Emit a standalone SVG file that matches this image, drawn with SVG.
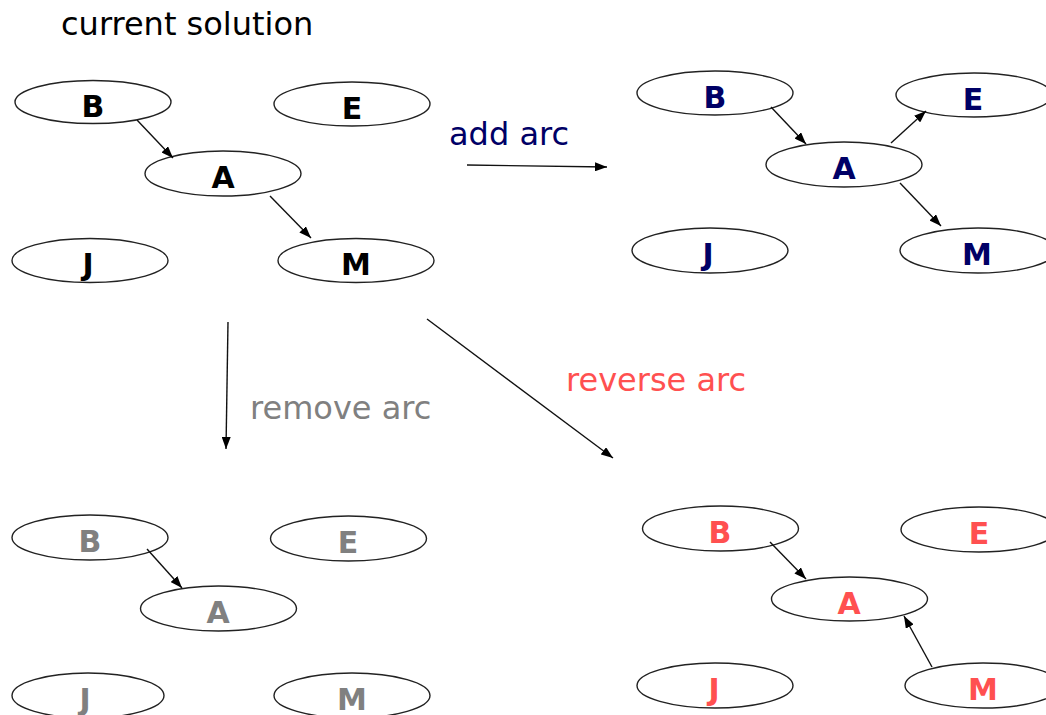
<svg xmlns="http://www.w3.org/2000/svg" width="1046" height="715" viewBox="0 0 1046 715">
<style>
.n ellipse{fill:#fff;stroke:#222;stroke-width:1.4}
.n text{font-family:"DejaVu Sans",Verdana,sans-serif;font-weight:bold;font-size:30px;text-anchor:middle}
.k text{fill:#000}
.b text{fill:#000066}
.g text{fill:#808080}
.r text{fill:#ff5050}
.lbl{font-family:"DejaVu Sans",Verdana,sans-serif;font-size:32px}
.c line{stroke:#111;stroke-width:1.4;marker-end:url(#ah)}
</style>
<defs>
<marker id="ah" markerUnits="userSpaceOnUse" markerWidth="12" markerHeight="9" refX="12" refY="4.5" orient="auto">
<path d="M0,0 L12,4.5 L0,9 z" fill="#000"/>
</marker>
</defs>
<rect width="1046" height="715" fill="#fff"/>
<text class="lbl" x="61" y="35" fill="#000">current solution</text>
<text class="lbl" x="449" y="145" fill="#000066">add arc</text>
<text class="lbl" x="250" y="419" fill="#808080">remove arc</text>
<text class="lbl" x="566" y="391" fill="#ff5050">reverse arc</text>

<!-- current solution -->
<g class="n k" id="c-B"><ellipse cx="93" cy="102" rx="78" ry="21.5"/><text x="93" y="117">B</text></g>
<g class="n k" id="c-E"><ellipse cx="352" cy="104" rx="78" ry="22"/><text x="352" y="119">E</text></g>
<g class="n k" id="c-A"><ellipse cx="223" cy="173.5" rx="78" ry="22.5"/><text x="223" y="188">A</text></g>
<g class="n k" id="c-J"><ellipse cx="90" cy="260.5" rx="78" ry="22"/><text x="88" y="275">J</text></g>
<g class="n k" id="c-M"><ellipse cx="356" cy="260.5" rx="78" ry="22"/><text x="356" y="275">M</text></g>

<!-- add arc -->
<g class="n b" id="a-B"><ellipse cx="715" cy="93" rx="78" ry="22"/><text x="715" y="108">B</text></g>
<g class="n b" id="a-E"><ellipse cx="974" cy="95" rx="78" ry="22"/><text x="973" y="110">E</text></g>
<g class="n b" id="a-A"><ellipse cx="844" cy="164.5" rx="78" ry="22.5"/><text x="844" y="179">A</text></g>
<g class="n b" id="a-J"><ellipse cx="710" cy="250.5" rx="78" ry="22.5"/><text x="708" y="265">J</text></g>
<g class="n b" id="a-M"><ellipse cx="978" cy="250.5" rx="78" ry="22.5"/><text x="977" y="265">M</text></g>

<!-- remove arc -->
<g class="n g" id="m-B"><ellipse cx="90" cy="537.5" rx="78" ry="22.5"/><text x="90" y="552">B</text></g>
<g class="n g" id="m-E"><ellipse cx="348.5" cy="538.5" rx="78" ry="22.5"/><text x="348" y="553">E</text></g>
<g class="n g" id="m-A"><ellipse cx="218.5" cy="608.5" rx="78" ry="22.5"/><text x="218" y="623">A</text></g>
<g class="n g" id="m-J"><ellipse cx="88" cy="695.5" rx="76" ry="22.5"/><text x="85" y="710">J</text></g>
<g class="n g" id="m-M"><ellipse cx="352" cy="695.5" rx="78" ry="22.5"/><text x="352" y="710">M</text></g>

<!-- reverse arc -->
<g class="n r" id="r-B"><ellipse cx="720.5" cy="528.5" rx="78" ry="22.5"/><text x="720" y="543">B</text></g>
<g class="n r" id="r-E"><ellipse cx="979" cy="529.5" rx="78" ry="22.5"/><text x="979" y="544">E</text></g>
<g class="n r" id="r-A"><ellipse cx="849.5" cy="599" rx="78" ry="22"/><text x="849" y="614">A</text></g>
<g class="n r" id="r-J"><ellipse cx="715" cy="685.5" rx="78" ry="22.5"/><text x="714" y="700">J</text></g>
<g class="n r" id="r-M"><ellipse cx="983" cy="685.5" rx="78" ry="22.5"/><text x="983" y="700">M</text></g>

<g class="c" id="connectors">
<line x1="137" y1="120" x2="173" y2="158"/>
<line x1="270" y1="196" x2="311" y2="238"/>
<line x1="771" y1="107" x2="806" y2="144"/>
<line x1="891" y1="143" x2="926" y2="111"/>
<line x1="900" y1="183" x2="941" y2="226"/>
<line x1="147" y1="549" x2="182" y2="588"/>
<line x1="770" y1="542" x2="806" y2="579"/>
<line x1="932" y1="667" x2="904" y2="616"/>
<line x1="467" y1="165" x2="607" y2="167"/>
<line x1="228" y1="322" x2="226" y2="449"/>
<line x1="427" y1="319" x2="613" y2="458"/>
</g>
</svg>
